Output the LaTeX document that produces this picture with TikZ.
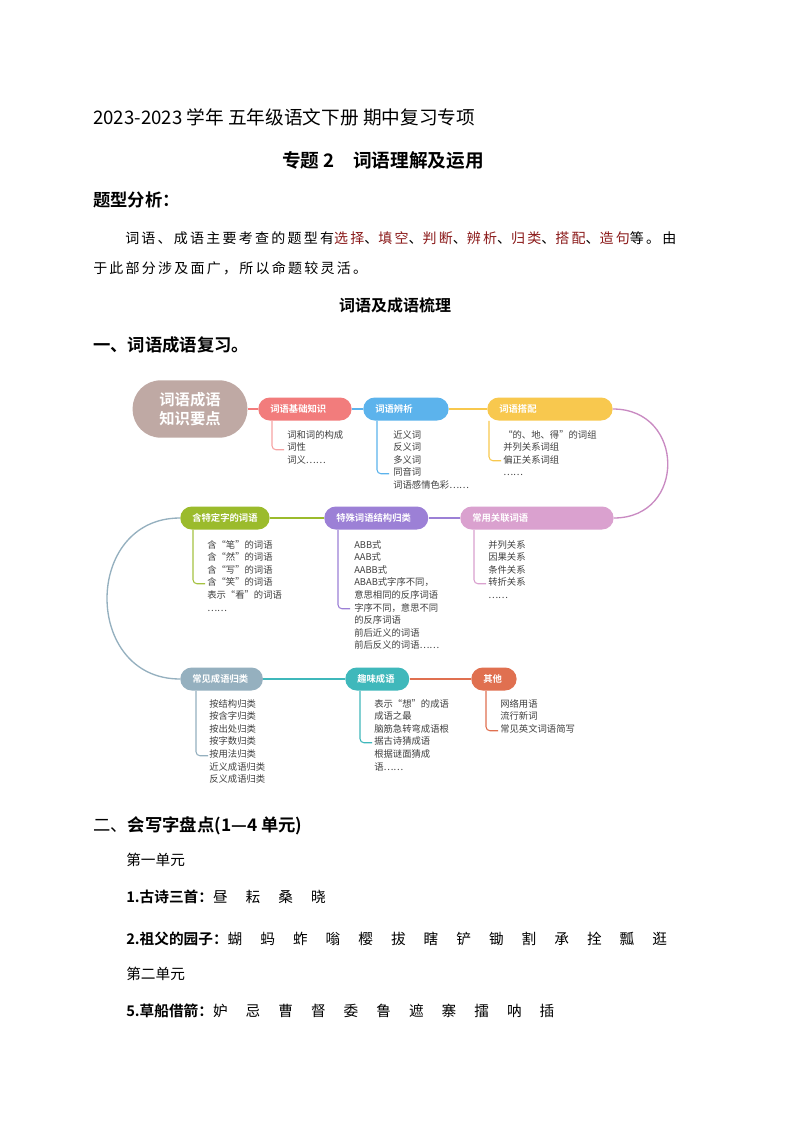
\documentclass[tikz,border=0pt]{standalone}
\usepackage{fontspec}
\setmainfont{Noto Sans CJK SC}
\newfontfamily\cjk{Noto Sans CJK SC}
\newfontfamily\cjkb{Noto Sans CJK SC Bold}
\newfontfamily\cjks[LetterSpace=16]{Noto Sans CJK SC}
\usetikzlibrary{calc}
\definecolor{cbrown}{HTML}{BFA9A4}
\definecolor{cred}{HTML}{F27C7C}
\definecolor{cblue}{HTML}{5CB3EC}
\definecolor{cyel}{HTML}{F8C84E}
\definecolor{cpink}{HTML}{C98AC2}
\definecolor{cpinkb}{HTML}{DAA1CF}
\definecolor{cpur}{HTML}{9C80D6}
\definecolor{cgreen}{HTML}{9BBB2C}
\definecolor{cgray}{HTML}{95B0BF}
\definecolor{cteal}{HTML}{3FB8BB}
\definecolor{corg}{HTML}{E07050}
\definecolor{dred}{HTML}{8B1A1A}
\newcommand\gap{\hspace{13.5pt}}
\begin{document}
\begin{tikzpicture}[x=0.75pt,y=-0.75pt,
  pill/.style={anchor=west,rounded corners=8.6pt,minimum height=17.25pt,inner xsep=9pt,text=white,font=\cjkb\fontsize{7}{8}\selectfont,align=left},
  item/.style={anchor=north west,inner sep=0pt,font=\cjk\fontsize{7}{9.45}\selectfont,text=black!75,align=left},
  hd/.style={anchor=west,inner sep=0pt},
  lk/.style={line width=1pt}]
\useasboundingbox (0,0) rectangle (794,1123);
\fill[white] (0,0) rectangle (794,1123);
% header text
\node[hd,font=\cjk\fontsize{14}{15}\selectfont] (h1) at (93,117) {2023-2023 学年\ 五年级语文下册\ 期中复习专项};
\node[inner sep=0pt,font=\cjkb\fontsize{14}{15}\selectfont] (h2) at (383,160) {专题 2\quad 词语理解及运用};
\node[hd,font=\cjkb\fontsize{13}{14}\selectfont] (h3) at (93,200) {题型分析：};
\node[hd,font=\cjks\fontsize{10.5}{12}\selectfont] (p1) at (125,238) {词语、成语主要考查的题型有\textcolor{dred}{选择}、\textcolor{dred}{填空}、\textcolor{dred}{判断}、\textcolor{dred}{辨析}、\textcolor{dred}{归类}、\textcolor{dred}{搭配}、\textcolor{dred}{造句}等。由};
\node[hd,font=\cjks\fontsize{10.5}{12}\selectfont] (p2) at (93,268) {于此部分涉及面广，所以命题较灵活。};
\node[inner sep=0pt,font=\cjkb\fontsize{12}{13}\selectfont] (h4) at (395,305) {词语及成语梳理};
\node[hd,font=\cjkb\fontsize{13}{14}\selectfont] (h5) at (93,345) {一、词语成语复习。};
% mind map
\node[fill=cbrown,rounded corners=21pt,minimum width=86pt,minimum height=43pt,text=white,font=\cjkb\fontsize{11.5}{14.5}\selectfont,align=center] (c) at (190,409) {词语成语\\知识要点};
\node[pill,fill=cred,text width=52pt] (a1) at (258,409) {词语基础知识};
\node[pill,fill=cblue,text width=46pt] (a2) at (363,409) {词语辨析};
\node[pill,fill=cyel,text width=76pt] (a3) at (487,409) {词语搭配};
\node[pill,fill=cgreen,text width=49pt] (b1) at (180,518) {含特定字的词语};
\node[pill,fill=cpur,text width=60pt] (b2) at (324,518) {特殊词语结构归类};
\node[pill,fill=cpinkb,text width=97pt] (b3) at (460,518) {常用关联词语};
\node[pill,fill=cgray,text width=44pt] (d1) at (180,679) {常见成语归类};
\node[pill,fill=cteal,text width=30pt] (d2) at (345,679) {趣味成语};
\node[pill,fill=corg,text width=16pt] (d3) at (471,679) {其他};
\draw[lk,cred] (c.east) -- (a1.west);
\draw[lk,cblue] (a1.east) -- (a2.west);
\draw[lk,cyel] (a2.east) -- (a3.west);
\draw[lk,cpink] (a3.east) to[out=0,in=0,looseness=1.7] (b3.east);
\draw[lk,cpur] (b3.west) -- (b2.east);
\draw[lk,cgreen] (b2.west) -- (b1.east);
\draw[lk,cgray] (b1.west) to[out=180,in=180,looseness=1.55] (d1.west);
\draw[lk,cteal] (d1.east) -- (d2.west);
\draw[lk,corg] (d2.east) -- (d3.west);
% brackets
\newcommand\brk[4]{\draw[line width=0.8pt,#1,rounded corners=3pt] ($(#2.south west)+(#3,0)$) |- ++(12,#4);}
\brk{cred!70}{a1}{14}{29}
\brk{cblue}{a2}{14}{53}
\brk{cyel}{a3}{2}{40}
\brk{cgreen!90}{b1}{13}{54}
\brk{cpur}{b2}{14}{79}
\brk{cpinkb}{b3}{14}{54}
\brk{cgray}{d1}{16}{65}
\brk{cteal}{d2}{15}{52}
\brk{corg}{d3}{15}{40}
\node[item] (t1) at (287,430) {词和词的构成\\词性\\词义……};
\node[item] (t2) at (393,430) {近义词\\反义词\\多义词\\同音词\\词语感情色彩……};
\node[item] (t3) at (503,430) {“的、地、得”的词组\\并列关系词组\\偏正关系词组\\……};
\node[item] (t4) at (207,540) {含“笔”的词语\\含“然”的词语\\含“写”的词语\\含“笑”的词语\\表示“看”的词语\\……};
\node[item] (t5) at (354,540) {ABB式\\AAB式\\AABB式\\ABAB式字序不同，\\意思相同的反序词语\\字序不同，意思不同\\的反序词语\\前后近义的词语\\前后反义的词语……};
\node[item] (t6) at (488,540) {并列关系\\因果关系\\条件关系\\转折关系\\……};
\node[item] (t7) at (209,699) {按结构归类\\按含字归类\\按出处归类\\按字数归类\\按用法归类\\近义成语归类\\反义成语归类};
\node[item] (t8) at (374,699) {表示“想”的成语\\成语之最\\脑筋急转弯成语根\\据古诗猜成语\\根据谜面猜成\\语……};
\node[item] (t9) at (500,699) {网络用语\\流行新词\\常见英文词语简写};
% bottom
\node[hd,font=\cjkb\fontsize{13}{14}\selectfont] (s1) at (93,826) {{\cjk 二、}会写字盘点(1—4 单元)};
\node[hd,font=\cjk\fontsize{11}{12}\selectfont] (s2) at (126,860) {第一单元};
\node[hd,font=\cjk\fontsize{11}{12}\selectfont] (s3) at (126,897) {{\cjkb 1.古诗三首：}昼\gap 耘\gap 桑\gap 晓};
\node[hd,font=\cjk\fontsize{11}{12}\selectfont] (s4) at (126,939) {{\cjkb 2.祖父的园子：}蝴\gap 蚂\gap 蚱\gap 嗡\gap 樱\gap 拔\gap 瞎\gap 铲\gap 锄\gap 割\gap 承\gap 拴\gap 瓢\gap 逛};
\node[hd,font=\cjk\fontsize{11}{12}\selectfont] (s5) at (126,974) {第二单元};
\node[hd,font=\cjk\fontsize{11}{12}\selectfont] (s6) at (126,1011) {{\cjkb 5.草船借箭：}妒\gap 忌\gap 曹\gap 督\gap 委\gap 鲁\gap 遮\gap 寨\gap 擂\gap 呐\gap 插};
\end{tikzpicture}
\end{document}
